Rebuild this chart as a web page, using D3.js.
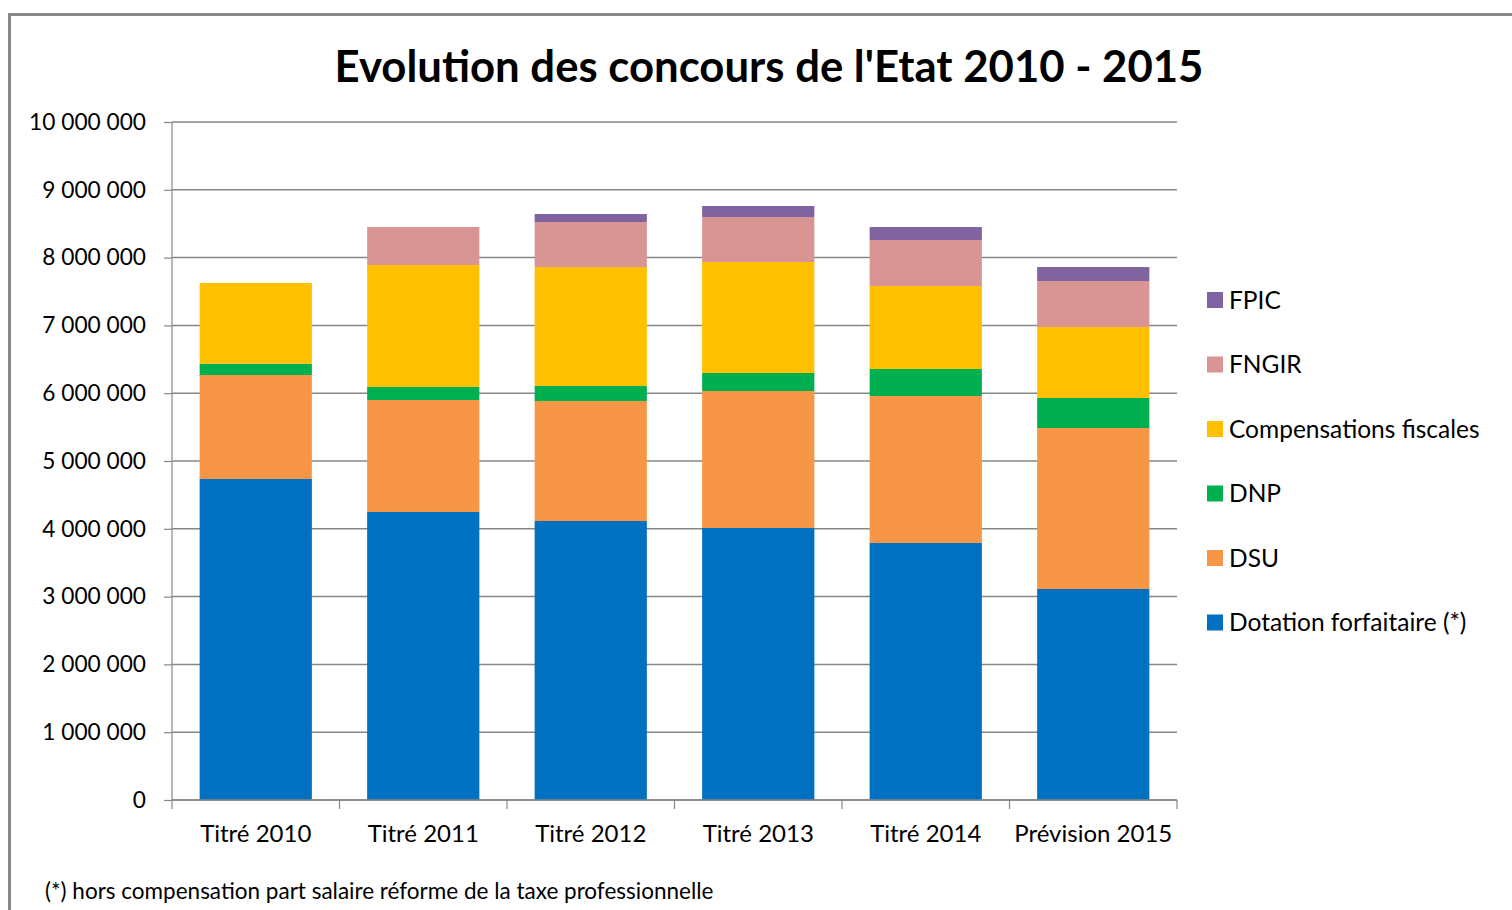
<!DOCTYPE html>
<html>
<head>
<meta charset="utf-8">
<script src="https://cdn.jsdelivr.net/npm/d3@7"></script>
<style>
  body { margin: 0; background: #fff; }
  svg text { font-family: Lato, "Liberation Sans", sans-serif; fill: #000; }
</style>
</head>
<body>
<div id="chart"></div>
<script>
// categories and series (in euros)
const years = ["Titré 2010", "Titré 2011", "Titré 2012", "Titré 2013", "Titré 2014", "Prévision 2015"];
const seriesNames = ["Dotation forfaitaire (*)", "DSU", "DNP", "Compensations fiscales", "FNGIR", "FPIC"];
const dotation = [4735000, 4248000, 4115000, 4012000, 3791000, 3112000];
const dsu = [1533000, 1652000, 1770000, 2020000, 2168000, 2375000];
const dnp = [167000, 191000, 221000, 266000, 398000, 442000];
const compensations = [1190000, 1800000, 1755000, 1637000, 1224000, 1047000];
const fngir = [0, 560000, 664000, 664000, 679000, 679000];
const fpic = [0, 0, 118000, 162000, 191000, 206000];
const yTicks = [0, 1000000, 2000000, 3000000, 4000000, 5000000, 6000000, 7000000, 8000000, 9000000, 10000000];
const colors = ["#0070C0", "#F79646", "#00B050", "#FFC000", "#D99594", "#8064A2"];

const width = 1512, height = 910;
const plotLeft = 172, plotRight = 1177, plotTop = 122, plotBottom = 800;

// build rows for d3.stack
const rows = years.map((y, i) => ({
  year: y,
  "Dotation forfaitaire (*)": dotation[i],
  "DSU": dsu[i],
  "DNP": dnp[i],
  "Compensations fiscales": compensations[i],
  "FNGIR": fngir[i],
  "FPIC": fpic[i]
}));
const stacked = d3.stack().keys(seriesNames)(rows);

const svg = d3.select("#chart").append("svg")
  .attr("width", width)
  .attr("height", height);

// outer frame
svg.append("rect")
  .attr("x", 9.5).attr("y", 14.5)
  .attr("width", 1600).attr("height", 1000)
  .attr("fill", "none")
  .attr("stroke", "#888")
  .attr("stroke-width", 3);

let x = d3.scaleBand().domain(years).range([plotLeft, plotRight]).paddingInner(0.33).paddingOuter(0.165);
let y = d3.scaleLinear().domain([0, 10000000]).range([plotBottom, plotTop]);

// gridlines
svg.append("g")
  .selectAll("line")
  .data(yTicks)
  .enter().append("line")
  .attr("x1", plotLeft).attr("x2", plotRight)
  .attr("y1", d => y(d)).attr("y2", d => y(d))
  .attr("stroke", "#878787")
  .attr("stroke-width", 1.5);

// bars
svg.append("g")
  .selectAll("g")
  .data(stacked)
  .enter().append("g")
  .attr("fill", (d, i) => colors[i])
  .selectAll("rect")
  .data(d => d)
  .enter().append("rect")
  .attr("x", d => x(d.data.year))
  .attr("y", d => y(d[1]))
  .attr("width", x.bandwidth())
  .attr("height", d => y(d[0]) - y(d[1]));

// y axis
let fmt = v => d3.format(",")(v).replace(/,/g, " ");
let yAxis = d3.axisLeft(y).tickValues(yTicks).tickFormat(fmt).tickSize(8).tickPadding(18);
let gy = svg.append("g")
  .attr("transform", "translate(" + plotLeft + ",0)")
  .call(yAxis);
gy.selectAll("line, path").attr("stroke", "#878787").attr("stroke-width", 1.2);
gy.select("path").attr("d", "M0," + plotTop + "V" + plotBottom);
gy.selectAll("text").attr("font-size", 22.7).attr("fill", "#000").style("font-family", "Lato, sans-serif");

// x axis (labels at centres, ticks at category boundaries)
let xAxis = d3.axisBottom(x).tickSize(0).tickPadding(25);
let gx = svg.append("g")
  .attr("transform", "translate(0," + plotBottom + ")")
  .call(xAxis);
gx.select("path").attr("stroke", "#878787").attr("stroke-width", 1.5).attr("d", "M" + plotLeft + ",0H" + plotRight);
gx.selectAll("text").attr("font-size", 24).attr("fill", "#000").style("font-family", "Lato, sans-serif");

let bounds = d3.range(years.length + 1).map(i => plotLeft + i * x.step());
svg.append("g")
  .selectAll("line")
  .data(bounds)
  .enter().append("line")
  .attr("x1", d => d).attr("x2", d => d)
  .attr("y1", plotBottom).attr("y2", plotBottom + 9)
  .attr("stroke", "#878787")
  .attr("stroke-width", 1.2);

// title
svg.append("text")
  .attr("x", 769)
  .attr("y", 82)
  .attr("text-anchor", "middle")
  .attr("font-size", 43.7)
  .attr("font-weight", "bold")
  .text("Evolution des concours de l'Etat 2010 - 2015");

// legend (top to bottom: FPIC ... Dotation)
let legendNames = seriesNames.slice().reverse();
let legendColors = colors.slice().reverse();
let legend = svg.append("g")
  .selectAll("g")
  .data(legendNames)
  .enter().append("g")
  .attr("transform", (d, i) => "translate(1207," + (300 + i * 64.5) + ")");
legend.append("rect")
  .attr("x", 0).attr("y", -8)
  .attr("width", 16).attr("height", 16)
  .attr("fill", (d, i) => legendColors[i]);
legend.append("text")
  .attr("x", 22)
  .attr("y", 8.5)
  .attr("font-size", 24.5)
  .text(d => d);

// footnote
svg.append("text")
  .attr("x", 45)
  .attr("y", 899)
  .attr("font-size", 22.5)
  .text("(*) hors compensation part salaire réforme de la taxe professionnelle");
</script>
</body>
</html>
